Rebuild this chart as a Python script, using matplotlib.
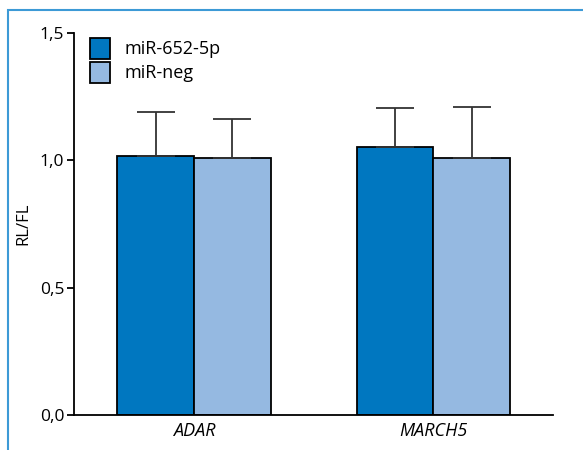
import numpy as np
import matplotlib.pyplot as plt
from matplotlib.patches import Rectangle

plt.rcParams['font.family'] = ['Open Sans', 'DejaVu Sans']

genes = ['ADAR', 'MARCH5']
series = ['miR-652-5p', 'miR-neg']
mir652 = [1.017, 1.052]
mir652_err = [0.173, 0.151]
mirneg = [1.009, 1.008]
mirneg_err = [0.153, 0.201]

colors = ['#0077c0', '#95b9e1']

fig = plt.figure(figsize=(5.83, 4.5), dpi=100)
ax = fig.add_axes([0.127, 0.078, 0.822, 0.849])

# blue frame around the figure
fig.patches.append(Rectangle((8 / 583, -0.1), 1.2, 1.1 - 10 / 450,
                             transform=fig.transFigure, fill=False,
                             edgecolor='#3d9ad6', linewidth=1.5, zorder=0))

x = np.arange(len(genes))
w = 0.32
ekw = dict(ecolor='#333333', elinewidth=1.3, capthick=1.3)
ax.bar(x - w / 2, mir652, w, yerr=[np.zeros(2), mir652_err], color=colors[0],
       edgecolor='black', linewidth=1.3, capsize=14, error_kw=ekw, label=series[0])
ax.bar(x + w / 2, mirneg, w, yerr=[np.zeros(2), mirneg_err], color=colors[1],
       edgecolor='black', linewidth=1.3, capsize=14, error_kw=ekw, label=series[1])

ax.set_xlim(-0.5, 1.5)
ax.set_ylim(0, 1.5)
ax.set_yticks([0, 0.5, 1.0, 1.5])
ax.set_yticklabels(['0,0', '0,5', '1,0', '1,5'], fontsize=12.5)
ax.set_xticks(x)
ax.set_xticklabels(genes, fontsize=13, style='italic')
ax.tick_params(axis='x', length=0, pad=5)
ax.tick_params(axis='y', length=5, width=1.3, pad=2)
ax.set_ylabel('RL/FL', fontsize=12, labelpad=6)

for s in ['top', 'right']:
    ax.spines[s].set_visible(False)
for s in ['left', 'bottom']:
    ax.spines[s].set_linewidth(1.3)

ax.legend(loc='upper left', bbox_to_anchor=(0.0, 1.03), frameon=False,
          fontsize=13, handlelength=1.1, handleheight=1.45, handletextpad=0.8,
          labelspacing=0.15)

fig.savefig('out.png', dpi=100)
